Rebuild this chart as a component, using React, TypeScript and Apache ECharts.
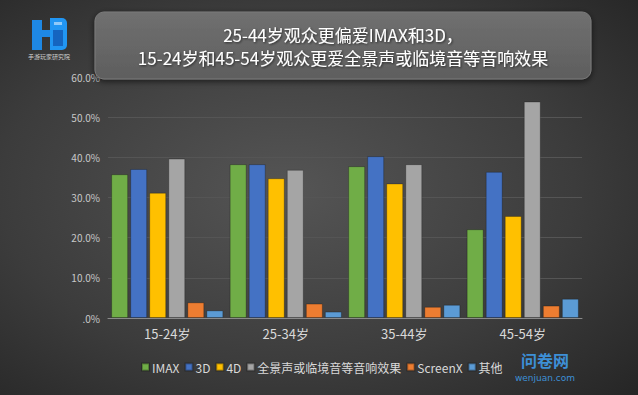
import React, { useEffect, useRef } from "react";
import * as echarts from "echarts";

const categories = ["15-24岁", "25-34岁", "35-44岁", "45-54岁"];
const seriesNames = ["IMAX", "3D", "4D", "全景声或临境音等音响效果", "ScreenX", "其他"];
const imax = [35.8, 38.3, 37.8, 22.1];
const d3 = [37.1, 38.3, 40.3, 36.4];
const d4 = [31.2, 34.8, 33.5, 25.4];
const surround = [39.7, 36.9, 38.3, 53.9];
const screenX = [3.9, 3.6, 2.8, 3.1];
const other = [1.9, 1.6, 3.3, 4.8];
const seriesValues = [imax, d3, d4, surround, screenX, other];
const colors = ["#70ad47", "#4472c4", "#ffc000", "#a5a5a5", "#ed7d31", "#5b9bd5"];
const titleLines = ["25-44岁观众更偏爱IMAX和3D，", "15-24岁和45-54岁观众更爱全景声或临境音等音响效果"];

export default function App() {
  const ref = useRef<HTMLDivElement>(null);
  useEffect(() => {
    document.body.style.margin = "0";
    const chart = echarts.init(ref.current!, null, { renderer: "svg" });
    const titleStyle = {
      fill: "#ffffff",
      font: "17px 'Noto Sans CJK SC', sans-serif",
      align: "center",
      verticalAlign: "middle",
      lineHeight: 18,
      textShadowColor: "rgba(0,0,0,0.6)",
      textShadowBlur: 2,
      textShadowOffsetX: 1,
      textShadowOffsetY: 1,
    };
    chart.setOption({
      animation: false,
      backgroundColor: "#2e2e2e",
      textStyle: { fontFamily: "'Noto Sans CJK SC', 'Noto Sans', sans-serif" },
      graphic: [
        {
          type: "rect",
          z: -10,
          silent: true,
          shape: { x: 0, y: 0, width: 638, height: 395 },
          style: {
            fill: new echarts.graphic.RadialGradient(0.45, 0.48, 0.75, [
              { offset: 0, color: "#555555" },
              { offset: 0.6, color: "#3c3c3c" },
              { offset: 1, color: "#262626" },
            ]),
          },
        },
        {
          type: "rect",
          z: 5,
          shape: { x: 95, y: 12, width: 496, height: 67, r: 9 },
          style: {
            fill: new echarts.graphic.LinearGradient(0, 0, 0, 1, [
              { offset: 0, color: "#707070" },
              { offset: 1, color: "#5e5e5e" },
            ]),
            stroke: "#7a7a7a",
            lineWidth: 1,
            shadowBlur: 6,
            shadowColor: "rgba(0,0,0,0.6)",
            shadowOffsetY: 2,
          },
        },
        { type: "text", z: 6, x: 343, y: 34, style: { ...titleStyle, text: titleLines[0] } },
        { type: "text", z: 6, x: 343, y: 57, style: { ...titleStyle, text: titleLines[1] } },
        // logo
        {
          type: "group",
          z: 6,
          children: [
            { type: "rect", shape: { x: 32, y: 20, width: 10, height: 30 }, style: { fill: "#1e88e5" } },
            { type: "rect", shape: { x: 42, y: 30, width: 8, height: 7 }, style: { fill: "#1e88e5" } },
            { type: "rect", shape: { x: 50, y: 18, width: 17, height: 32, r: [0, 5, 5, 0] }, style: { fill: "#2196f3" } },
            { type: "rect", shape: { x: 53, y: 30, width: 10, height: 16 }, style: { fill: "#1565c0" } },
            { type: "rect", shape: { x: 54, y: 22, width: 8, height: 3 }, style: { fill: "#90caf9" } },
            {
              type: "text",
              x: 49,
              y: 56,
              style: { text: "手游玩家研究院", fill: "#cccccc", font: "6px 'Noto Sans CJK SC'", align: "center", verticalAlign: "middle" },
            },
          ],
        },
        // watermark
        {
          type: "text",
          z: 6,
          x: 545,
          y: 360,
          style: { text: "问卷网", fill: "#3d8fd6", font: "bold 16px 'Noto Sans CJK SC'", align: "center", verticalAlign: "middle", lineHeight: 16 },
        },
        {
          type: "text",
          z: 6,
          x: 545,
          y: 378,
          style: { text: "wenjuan.com", fill: "#3d8fd6", font: "9px 'DejaVu Sans'", align: "center", verticalAlign: "middle", lineHeight: 10 },
        },
      ],
      grid: { left: 108, right: 56, top: 77, bottom: 77 },
      legend: {
        left: 136,
        top: 356,
        itemWidth: 7,
        itemHeight: 7,
        itemGap: 5,
        icon: "rect",
        textStyle: { color: "#d9d9d9", fontSize: 12, padding: [0, 0, 0, -2] },
        data: seriesNames,
      },
      xAxis: {
        type: "category",
        data: categories,
        axisLine: { lineStyle: { color: "#8a8a8a", width: 1 } },
        axisTick: { show: false },
        axisLabel: { color: "#d9d9d9", fontSize: 13, margin: 9 },
      },
      yAxis: {
        type: "value",
        min: 0,
        max: 60,
        interval: 10,
        axisLine: { show: false },
        axisTick: { show: false },
        splitLine: { lineStyle: { color: "#555555", width: 1 } },
        axisLabel: {
          color: "#c8c8c8",
          fontSize: 10,
          margin: 8,
          formatter: (v: number) => (v === 0 ? ".0%" : v.toFixed(1) + "%"),
        },
      },
      series: seriesNames.map((name, i) => ({
        name,
        type: "bar",
        data: seriesValues[i],
        barWidth: 17,
        barGap: "12%",
        itemStyle: { color: colors[i], borderColor: "rgba(0,0,0,0.25)", borderWidth: 1 },
      })),
    });
    return () => chart.dispose();
  }, []);
  return <div ref={ref} style={{ width: 638, height: 395 }} />;
}
